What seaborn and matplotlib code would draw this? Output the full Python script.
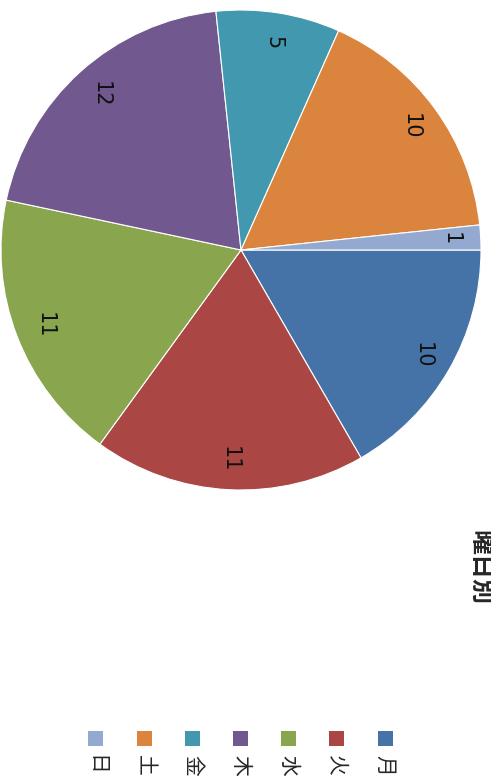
import matplotlib
matplotlib.use('Agg')
import matplotlib.pyplot as plt
import seaborn as sns
from matplotlib.patches import Rectangle

sns.set_style('white')
plt.rcParams['font.family'] = ['Noto Sans CJK JP', 'DejaVu Sans']

days = ['月', '火', '水', '木', '金', '土', '日']
counts = [10, 11, 11, 12, 5, 10, 1]
colors = ['#4572A7', '#AA4643', '#89A54E', '#71588F', '#4198AF', '#DB843D', '#93A9CF']
title = '曜日別'

W, H = 491, 783
fig = plt.figure(figsize=(W / 100, H / 100), dpi=100)
ax = fig.add_axes([1 / W, (H - 490) / H, 480 / W, 480 / H])
wedges, texts = ax.pie(counts, colors=colors, startangle=0, counterclock=False,
                       labels=[str(c) for c in counts], labeldistance=0.875,
                       wedgeprops=dict(edgecolor='white', linewidth=0.8),
                       textprops=dict(fontsize=15, color='#111111', rotation=-90,
                                      family='DejaVu Sans'))
for t in texts:
    t.set_ha('center')
    t.set_va('center')
ax.set_xlim(-1, 1)
ax.set_ylim(-1, 1)
ax.set_aspect('equal')
ax.axis('off')

# rotated title
fig.text(479 / W, 1 - 568 / H, title, rotation=-90, fontsize=18, fontweight='bold',
         ha='center', va='center')

# rotated legend, stacked right to left
for i, (d, c) in enumerate(zip(days, colors)):
    x = 385 - i * 48.2
    fig.patches.append(Rectangle(((x - 7.5) / W, 1 - 745.5 / H), 15 / W, 15 / H,
                                 transform=fig.transFigure, facecolor=c, edgecolor='none'))
    fig.text(x / W, 1 - 765 / H, d, rotation=-90, fontsize=15,
             ha='center', va='center')

fig.savefig('out.png', dpi=100)
